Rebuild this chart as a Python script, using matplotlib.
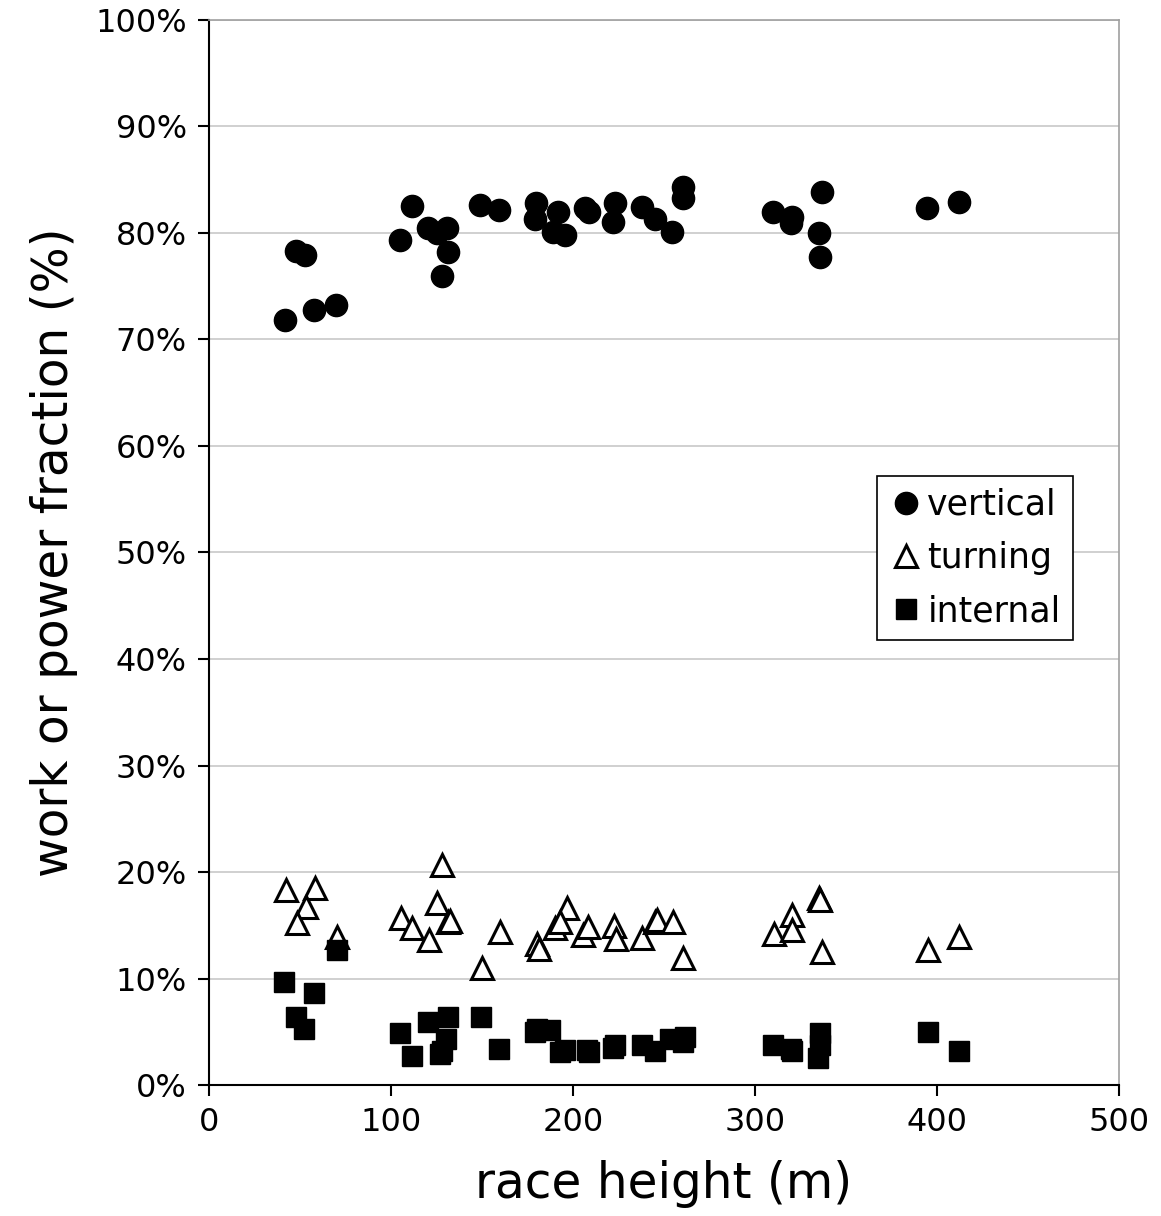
import matplotlib
matplotlib.use('Agg')
import matplotlib.pyplot as plt
from matplotlib.ticker import FuncFormatter

# race height (m) for each data point
height_v = [41.8, 47.8, 52.7, 57.7, 69.8, 104.9, 111.4, 120.3, 125.1, 130.6, 131.5, 127.9,
            148.9, 159.5, 179.7, 179.1, 191.8, 189.0, 195.6, 206.6, 209.0, 223.0, 222.0,
            237.9, 245.0, 254.4, 260.4, 260.4, 309.9, 320.3, 320.0, 336.8, 335.2, 335.7,
            394.5, 412.0]
vertical = [71.8, 78.3, 77.9, 72.8, 73.2, 79.3, 82.5, 80.5, 80.0, 80.5, 78.2, 76.0,
            82.6, 82.2, 82.8, 81.3, 82.0, 80.1, 79.8, 82.3, 82.0, 82.8, 81.0,
            82.4, 81.3, 80.1, 84.3, 83.3, 82.0, 81.5, 80.9, 83.8, 80.0, 77.7,
            82.3, 82.9]

height_t = [42.1, 58.2, 53.3, 48.2, 70.2, 127.8, 105.3, 111.8, 125.1, 131.5, 132.5, 120.9,
            150.2, 159.9, 180.0, 181.5, 190.1, 196.5, 192.9, 205.7, 208.4, 222.5, 223.6,
            237.7, 245.3, 246.3, 254.8, 260.6, 310.6, 320.6, 320.6, 335.3, 336.0, 337.0,
            394.8, 412.2]
turning = [18.3, 18.5, 16.7, 15.2, 13.9, 20.7, 15.7, 14.7, 17.1, 15.3, 15.4, 13.6,
           11.0, 14.4, 13.2, 12.8, 14.7, 16.6, 15.3, 14.1, 14.8, 14.9, 13.7,
           13.8, 15.3, 15.5, 15.3, 11.9, 14.2, 16.0, 14.6, 17.6, 17.4, 12.5,
           12.7, 13.9]

height_i = [41.4, 47.8, 52.4, 57.8, 70.2, 104.9, 111.4, 120.5, 126.9, 131.4, 130.5, 128.0,
            149.5, 159.5, 179.1, 180.0, 192.9, 187.4, 195.6, 207.5, 209.0, 223.0, 222.2,
            237.7, 245.0, 253.3, 261.5, 260.2, 310.0, 320.0, 320.5, 335.7, 335.7, 334.8,
            394.8, 412.0]
internal = [9.7, 6.4, 5.3, 8.6, 12.7, 4.9, 2.7, 5.9, 2.9, 6.4, 4.3, 3.2,
            6.4, 3.4, 5.0, 5.3, 3.1, 5.2, 3.3, 3.3, 3.1, 3.8, 3.5,
            3.8, 3.2, 4.3, 4.5, 4.0, 3.8, 3.4, 3.2, 4.9, 3.8, 2.5,
            5.0, 3.2]

x_ticks = [0, 100, 200, 300, 400, 500]
y_ticks = list(range(0, 101, 10))

plt.rcParams['font.family'] = ['DejaVu Sans']

fig = plt.figure(figsize=(11.61, 12.16), dpi=100)
ax = fig.add_axes([0.18, 0.1077, 0.7838, 0.8759])

ax.plot(height_v, vertical, 'o', color='black', markersize=16, label='vertical', zorder=3)
ax.plot(height_t, turning, '^', markerfacecolor='white', markeredgecolor='black',
        markeredgewidth=2.2, markersize=15.5, label='turning', zorder=3)
ax.plot(height_i, internal, 's', color='black', markersize=14, label='internal', zorder=3)

ax.set_xlim(0, 500)
ax.set_ylim(0, 100)
ax.set_xticks(x_ticks)
ax.set_yticks(y_ticks)
ax.yaxis.set_major_formatter(FuncFormatter(lambda v, p: '%d%%' % v))
ax.grid(axis='y', color='#c8c8c8', linewidth=1.2, zorder=0)
ax.set_axisbelow(True)

for s in ['top', 'right']:
    ax.spines[s].set_color('#a0a0a0')
    ax.spines[s].set_linewidth(1.2)
for s in ['left', 'bottom']:
    ax.spines[s].set_color('black')
    ax.spines[s].set_linewidth(1.5)

ax.tick_params(axis='both', direction='out', length=8, width=1.5, labelsize=23, pad=8)

ax.set_xlabel('race height (m)', fontsize=35, labelpad=16)
ax.set_ylabel('work or power fraction (%)', fontsize=35, labelpad=12)

leg = ax.legend(loc='upper left', bbox_to_anchor=(0.734, 0.572), fontsize=25,
                frameon=True, fancybox=False, edgecolor='black', framealpha=1,
                handletextpad=0.1, handlelength=1.0, borderpad=0.35, labelspacing=0.55,
                borderaxespad=0, markerscale=1.0)
leg.get_frame().set_linewidth(1.2)

fig.savefig('out.png', dpi=100)
